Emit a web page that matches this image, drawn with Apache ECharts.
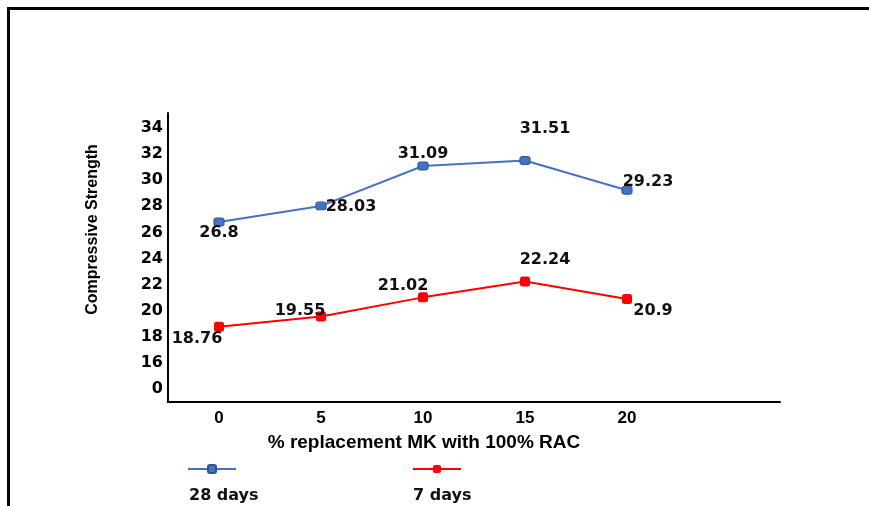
<!DOCTYPE html>
<html>
<head>
<meta charset="utf-8">
<script src="https://cdn.jsdelivr.net/npm/echarts@6/dist/echarts.min.js"></script>
<style>
html,body{margin:0;padding:0;background:#fff;}
#chart{width:869px;height:506px;}
</style>
</head>
<body>
<div id="chart"></div>
<script>
var categories = ['0', '5', '10', '15', '20', ''];
var days28 = [26.8, 28.03, 31.09, 31.51, 29.23];
var days7 = [18.76, 19.55, 21.02, 22.24, 20.9];
var seriesNames = ['28 days', '7 days'];
var yTickValues = [14, 16, 18, 20, 22, 24, 26, 28, 30, 32, 34];
var yTickLabels = ['0', '16', '18', '20', '22', '24', '26', '28', '30', '32', '34'];

var off28 = [[0, 11], [30, 1], [0, -12], [20, -32], [21, -8]];
var off7 = [[-22, 12], [-21, -6], [-20, -12], [20, -22], [26, 12]];

function items(vals, offs) {
  return vals.map(function (v, i) {
    return { value: v, label: { offset: offs[i] } };
  });
}

var labelFont = { fontFamily: 'DejaVu Sans', fontWeight: 'bold', fontSize: 16, color: '#111' };

var chart = echarts.init(document.getElementById('chart'), null, { renderer: 'canvas' });
chart.setOption({
  animation: false,
  backgroundColor: '#ffffff',
  grid: { left: 168, right: 89, top: 113, bottom: 104, containLabel: false },
  xAxis: {
    type: 'category',
    data: categories,
    boundaryGap: true,
    axisLine: { lineStyle: { color: '#000', width: 2 } },
    axisTick: { show: false },
    axisLabel: { margin: 8, fontFamily: 'Liberation Sans', fontWeight: 'bold', fontSize: 17, color: '#000' },
    name: '% replacement MK with 100% RAC',
    nameLocation: 'middle',
    nameGap: 31,
    nameTextStyle: { fontFamily: 'Liberation Sans', fontWeight: 'bold', fontSize: 19, color: '#000', padding: [0, 100, 0, 0] }
  },
  yAxis: {
    type: 'value',
    min: 13,
    max: 35.15,
    interval: 1,
    splitLine: { show: false },
    axisTick: { show: false },
    axisLine: { show: true, lineStyle: { color: '#000', width: 2 } },
    axisLabel: {
      margin: 5,
      fontFamily: 'DejaVu Sans', fontWeight: 'bold', fontSize: 16, color: '#000',
      showMinLabel: true, showMaxLabel: true,
      formatter: function (v) {
        var idx = yTickValues.indexOf(Math.round(v * 100) / 100);
        return idx >= 0 ? yTickLabels[idx] : '';
      }
    },
    name: 'Compressive Strength',
    nameLocation: 'middle',
    nameGap: 67,
    nameRotate: 90,
    nameTextStyle: { fontFamily: 'Liberation Sans', fontWeight: 'bold', fontSize: 16, color: '#000', padding: [0, 0, 0, 56] }
  },
  legend: {
    left: 182,
    top: 459,
    itemWidth: 48,
    itemHeight: 10,
    itemGap: 175,
    data: seriesNames,
    formatter: function () { return ''; },
    textStyle: { fontSize: 1 }
  },
  graphic: [
    { type: 'line', shape: { x1: 7, y1: 8.5, x2: 869, y2: 8.5 }, style: { stroke: '#000', lineWidth: 3 } },
    { type: 'line', shape: { x1: 8.5, y1: 7, x2: 8.5, y2: 506 }, style: { stroke: '#000', lineWidth: 3 } },
    { type: 'text', left: 189, top: 488, style: { text: seriesNames[0], font: 'bold 16px "DejaVu Sans"', fill: '#111' } },
    { type: 'text', left: 413, top: 488, style: { text: seriesNames[1], font: 'bold 16px "DejaVu Sans"', fill: '#111' } }
  ],
  series: [
    {
      name: seriesNames[0],
      type: 'line',
      data: items(days28, off28),
      symbol: 'roundRect',
      symbolSize: [10, 8],
      lineStyle: { color: '#4472C4', width: 2 },
      itemStyle: { color: '#4472C4', borderColor: '#2F528F', borderWidth: 1 },
      label: Object.assign({ show: true, position: 'inside' }, labelFont)
    },
    {
      name: seriesNames[1],
      type: 'line',
      data: items(days7, off7),
      symbol: 'roundRect',
      symbolSize: 10,
      lineStyle: { color: '#FF0000', width: 2 },
      itemStyle: { color: '#FF0000', borderWidth: 0 },
      label: Object.assign({ show: true, position: 'inside' }, labelFont)
    }
  ]
});
</script>
</body>
</html>
